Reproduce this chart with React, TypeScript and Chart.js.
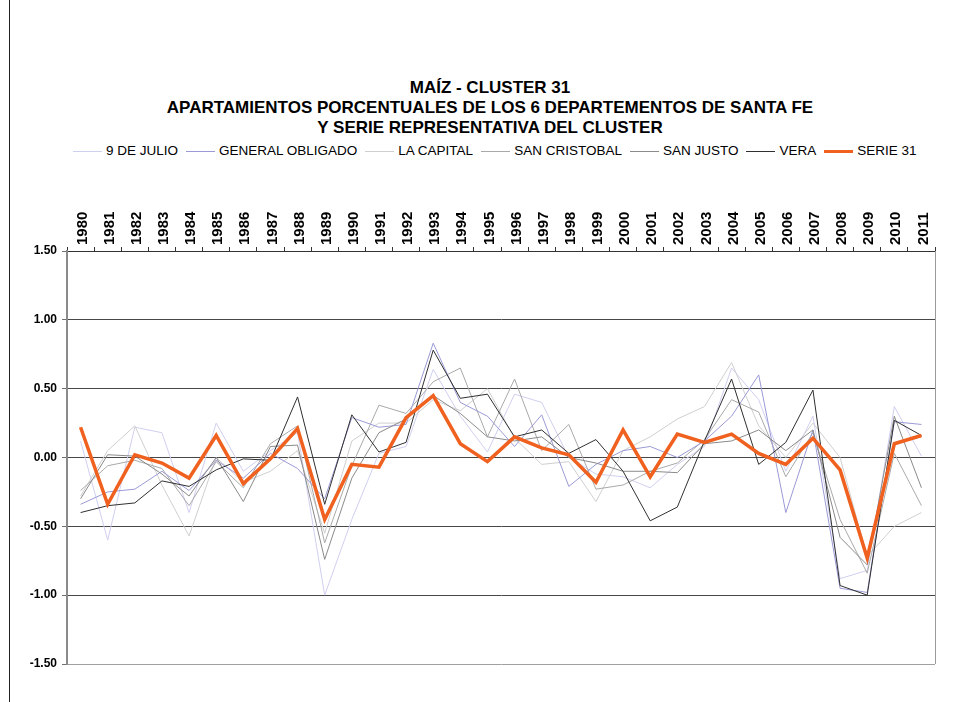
import React, { useEffect, useRef } from "react";
import { Chart, registerables } from "chart.js";

Chart.register(...registerables);

const YEARS = [
  "1980","1981","1982","1983","1984","1985","1986","1987","1988","1989",
  "1990","1991","1992","1993","1994","1995","1996","1997","1998","1999",
  "2000","2001","2002","2003","2004","2005","2006","2007","2008","2009",
  "2010","2011",
];

const NUEVE_DE_JULIO = [0.12, -0.60, 0.22, 0.18, -0.40, 0.25, -0.10, 0.05, 0.18, -1.00, -0.45, 0.03, 0.08, 0.64, 0.30, 0.04, 0.46, 0.40, 0.00, -0.12, -0.14, -0.22, -0.05, 0.08, 0.65, 0.42, -0.10, 0.30, -0.88, -0.82, 0.37, 0.01];
const GENERAL_OBLIGADO = [-0.34, -0.25, -0.23, -0.10, -0.24, -0.02, -0.15, 0.03, -0.08, -0.30, 0.29, 0.22, 0.24, 0.83, 0.40, 0.30, 0.08, 0.31, -0.21, -0.05, 0.05, 0.08, 0.00, 0.12, 0.30, 0.60, -0.40, 0.20, -0.95, -0.98, 0.26, 0.24];
const LA_CAPITAL = [-0.28, 0.05, 0.23, -0.20, -0.57, 0.00, -0.18, -0.10, 0.05, -0.55, 0.12, 0.25, 0.25, 0.42, 0.34, 0.50, 0.14, -0.05, -0.03, -0.32, 0.05, 0.15, 0.28, 0.37, 0.69, 0.23, 0.00, 0.25, 0.00, -0.72, -0.50, -0.40];
const SAN_CRISTOBAL = [-0.24, -0.06, -0.02, -0.08, -0.35, -0.03, -0.22, 0.10, 0.23, -0.62, -0.06, 0.38, 0.32, 0.55, 0.65, 0.15, 0.57, 0.05, 0.24, -0.23, -0.20, -0.10, -0.04, 0.13, 0.42, 0.33, -0.14, 0.18, -0.45, -0.84, 0.03, -0.35];
const SAN_JUSTO = [-0.30, 0.02, 0.01, -0.12, -0.28, 0.00, -0.32, 0.08, 0.09, -0.74, -0.15, 0.18, 0.28, 0.45, 0.32, 0.15, 0.12, 0.15, 0.00, -0.04, -0.10, -0.10, -0.11, 0.10, 0.12, 0.20, 0.05, 0.20, -0.58, -0.78, 0.30, -0.22];
const VERA = [-0.40, -0.35, -0.33, -0.17, -0.21, -0.09, -0.01, -0.02, 0.44, -0.34, 0.31, 0.04, 0.11, 0.78, 0.43, 0.46, 0.15, 0.20, 0.03, 0.13, -0.10, -0.46, -0.36, 0.12, 0.57, -0.05, 0.11, 0.49, -0.93, -1.00, 0.27, 0.16];
const SERIE_31 = [0.22, -0.34, 0.02, -0.04, -0.15, 0.16, -0.19, -0.01, 0.21, -0.45, -0.05, -0.07, 0.29, 0.45, 0.10, -0.03, 0.15, 0.07, 0.02, -0.18, 0.20, -0.14, 0.17, 0.11, 0.17, 0.03, -0.05, 0.14, -0.09, -0.73, 0.10, 0.16];

const SERIES = [
  { label: "9 DE JULIO", data: NUEVE_DE_JULIO, color: "#cfcff0", width: 1, order: 6 },
  { label: "GENERAL OBLIGADO", data: GENERAL_OBLIGADO, color: "#9a9ad6", width: 1, order: 3 },
  { label: "LA CAPITAL", data: LA_CAPITAL, color: "#cfcfcf", width: 1, order: 5 },
  { label: "SAN CRISTOBAL", data: SAN_CRISTOBAL, color: "#a9a9a9", width: 1, order: 4 },
  { label: "SAN JUSTO", data: SAN_JUSTO, color: "#8a8a8a", width: 1, order: 2 },
  { label: "VERA", data: VERA, color: "#303030", width: 1, order: 1 },
  { label: "SERIE 31", data: SERIE_31, color: "#f0601e", width: 3.5, order: 0 },
];

const TITLE_LINES = [
  "MAÍZ - CLUSTER 31",
  "APARTAMIENTOS PORCENTUALES DE LOS 6 DEPARTEMENTOS DE SANTA FE",
  "Y SERIE REPRESENTATIVA DEL CLUSTER",
];

const FONT = "'Liberation Sans', Arial, sans-serif";

const frameBorder = {
  id: "frameBorder",
  beforeDatasetsDraw(chart: any) {
    const { ctx, chartArea } = chart;
    ctx.save();
    ctx.strokeStyle = "#9a9a9a";
    ctx.lineWidth = 1;
    ctx.beginPath();
    ctx.moveTo(Math.round(chartArea.right) + 0.5, chartArea.top);
    ctx.lineTo(Math.round(chartArea.right) + 0.5, chartArea.bottom);
    ctx.stroke();
    ctx.restore();
  },
};

export default function App() {
  const ref = useRef<HTMLCanvasElement | null>(null);

  useEffect(() => {
    if (!ref.current) return;
    const chart = new Chart(ref.current, {
      type: "line",
      data: {
        labels: YEARS,
        datasets: SERIES.map((s) => ({
          label: s.label,
          data: s.data,
          borderColor: s.color,
          backgroundColor: s.color,
          borderWidth: s.width,
          pointRadius: 0,
          tension: 0,
          fill: false,
          order: s.order,
        })),
      },
      options: {
        responsive: false,
        animation: false,
        layout: { padding: { left: 10, right: 21, top: 191, bottom: 38 } },
        plugins: {
          legend: { display: false },
          title: { display: false },
          tooltip: { enabled: false },
        },
        scales: {
          x: {
            position: "top",
            offset: true,
            grid: {
              display: true,
              drawOnChartArea: false,
              drawTicks: true,
              tickLength: 4,
              color: "#333",
              offset: true,
            },
            border: { display: true, color: "#333", width: 1 },
            ticks: {
              minRotation: 90,
              maxRotation: 90,
              autoSkip: false,
              padding: 2,
              labelOffset: 20,
              color: "#000",
              font: { family: FONT, size: 15, weight: "bold" },
            },
            afterFit: (scale: any) => {
              scale.height = 60;
            },
          },
          y: {
            min: -1.5,
            max: 1.5,
            grid: {
              color: (ctx: any) => (ctx.tick && ctx.tick.value === -1.5 ? "#a0a0a0" : "#474747"),
              lineWidth: 1,
              tickLength: 5,
              tickColor: "#707070",
            },
            border: { display: true, color: "#8a8a8a", width: 2 },
            ticks: {
              stepSize: 0.5,
              padding: 5,
              color: "#000",
              font: { family: FONT, size: 12, weight: "bold" },
              callback: (v: any) => Number(v).toFixed(2),
            },
            afterFit: (scale: any) => {
              scale.width = 57;
            },
          },
        },
      },
      plugins: [frameBorder],
    });
    return () => chart.destroy();
  }, []);

  return (
    <div style={{ position: "absolute", left: 0, top: 0, width: 956, height: 702, background: "#fff", overflow: "hidden", fontFamily: FONT }}>
      <div style={{ position: "absolute", left: 9, top: 0, width: 1, height: 702, background: "#222" }} />
      <div style={{ position: "absolute", left: 12, top: 78, width: 956, textAlign: "center", fontWeight: "bold", fontSize: 17, lineHeight: "20px", color: "#000" }}>
        {TITLE_LINES.map((t) => (
          <div key={t}>{t}</div>
        ))}
      </div>
      <div style={{ position: "absolute", left: 73, top: 142, width: 900, display: "flex", justifyContent: "flex-start", alignItems: "center", fontSize: 13.5, lineHeight: "18px", color: "#000", whiteSpace: "nowrap" }}>
        {SERIES.map((s) => (
          <div key={s.label} style={{ display: "flex", alignItems: "center", marginRight: 8 }}>
            <span style={{ display: "inline-block", width: 29, height: s.width > 2 ? 3 : 1, background: s.color, marginRight: 4 }} />
            <span>{s.label}</span>
          </div>
        ))}
      </div>
      <canvas ref={ref} width={956} height={702} style={{ position: "absolute", left: 0, top: 0, width: 956, height: 702 }} />
    </div>
  );
}
